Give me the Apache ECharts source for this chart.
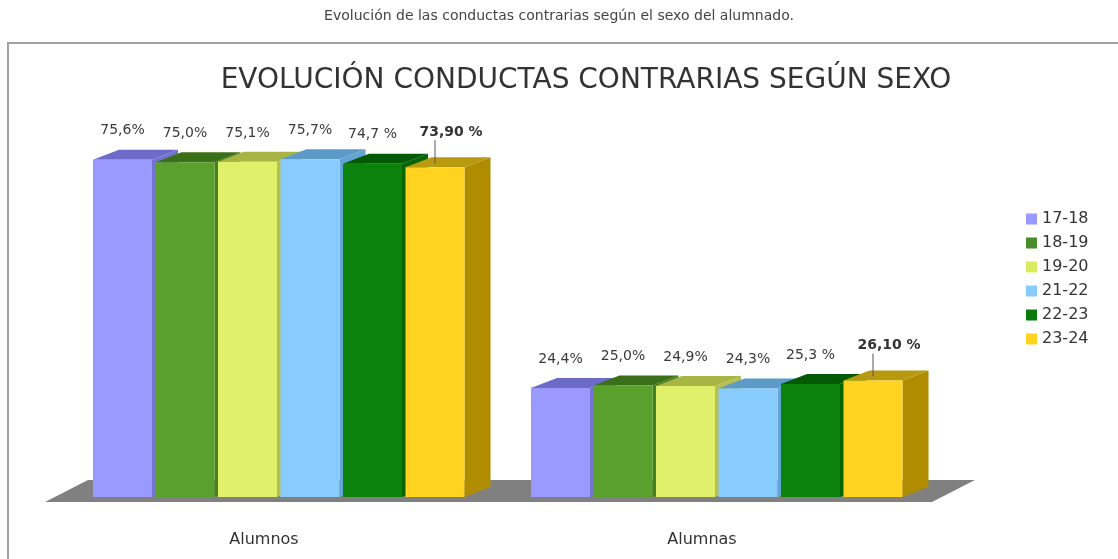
<!DOCTYPE html>
<html><head><meta charset="utf-8">
<script src="https://cdn.jsdelivr.net/npm/echarts@6/dist/echarts.min.js"></script>
<style>html,body{margin:0;padding:0;background:#fff}#c{width:1118px;height:559px}</style>
</head><body><div id="c"></div>
<script>
// ---- data ----
const categories = ['Alumnos', 'Alumnas'];
const years = ['17-18', '18-19', '19-20', '21-22', '22-23', '23-24'];
const v1718 = [75.6, 24.4];
const v1819 = [75.0, 25.0];
const v1920 = [75.1, 24.9];
const v2122 = [75.7, 24.3];
const v2223 = [74.7, 25.3];
const v2324 = [73.90, 26.10];
const seriesValues = [v1718, v1819, v1920, v2122, v2223, v2324];
const labelDecimals = [1, 1, 1, 1, 1, 2];
const labelSep = ['', '', '', '', ' ', ' '];
const title = 'EVOLUCIÓN CONDUCTAS CONTRARIAS SEGÚN SEXO';
const caption = 'Evolución de las conductas contrarias según el sexo del alumnado.';

// ---- styles ----
const frontCol = ['#9999ff', '#5aa02c', '#e0f06a', '#88ccff', '#0b820b', '#ffd320'];
const topCol   = ['#6c6cc8', '#3c7018', '#a8b444', '#5c9ac8', '#045a04', '#b89a10'];
const sideCol  = ['#7474d0', '#44801c', '#b4c050', '#64a4d4', '#066606', '#b08c00'];
const legendCol = ['#9999ff', '#4a8a2a', '#d8ec60', '#88ccff', '#0b7a0b', '#ffd320'];

function fmt(v, s) {
  return v.toFixed(labelDecimals[s]).replace('.', ',') + labelSep[s] + '%';
}

function makeRender(s) {
  return function (params, api) {
    const ci = api.value(0), val = api.value(1);
    const base = api.coord([ci, 0]);
    const tp = api.coord([ci, val]);
    const band = api.size([1, 0])[0];
    const pitch = band * 0.1427, w = band * 0.1347;
    const x0 = base[0] - band * 0.4224 + s * pitch;
    const y0 = base[1], y1 = tp[1];
    const dx = 26, dy = 10;
    const last = s === years.length - 1;
    const cx = x0 + w / 2;
    const children = [
      { type: 'polygon', shape: { points: [[x0 + w, y1], [x0 + w + dx, y1 - dy], [x0 + w + dx, y0 - dy], [x0 + w, y0]] },
        style: { fill: sideCol[s] } },
      { type: 'polygon', shape: { points: [[x0, y1], [x0 + dx, y1 - dy], [x0 + w + dx, y1 - dy], [x0 + w, y1]] },
        style: { fill: topCol[s] } },
      { type: 'rect', shape: { x: x0, y: y1, width: w, height: y0 - y1 },
        style: { fill: frontCol[s] } }
    ];
    if (last) {
      children.push({ type: 'line', shape: { x1: cx, y1: y1 - 27, x2: cx, y2: y1 - 4 },
        style: { stroke: '#555', lineWidth: 1 } });
      children.push({ type: 'text', style: { x: cx + 16, y: y1 - 28, text: fmt(val, s),
        align: 'center', verticalAlign: 'bottom', fill: '#333',
        font: 'bold 14px "DejaVu Sans"' } });
    } else {
      children.push({ type: 'text', style: { x: cx, y: y1 - 22, text: fmt(val, s),
        align: 'center', verticalAlign: 'bottom', fill: '#3a3a3a',
        font: '14px "DejaVu Sans"' } });
    }
    return { type: 'group', children: children };
  };
}

const series = [{
  type: 'custom', name: 'floor', silent: true, z: 1,
  data: [[0, 0]],
  renderItem: function (params, api) {
    const cs = params.coordSys;
    const yb = cs.y + cs.height;
    return { type: 'polygon', shape: { points: [
      [cs.x - 14, yb + 5], [cs.x + cs.width - 3, yb + 5],
      [cs.x + cs.width + 40, yb - 17], [cs.x + 29, yb - 17]] },
      style: { fill: '#808080' } };
  }
}];
years.forEach(function (y, s) {
  series.push({
    type: 'custom', name: y, z: 2 + s,
    itemStyle: { color: legendCol[s] },
    encode: { x: 0, y: 1 },
    data: seriesValues[s].map(function (v, i) { return [i, v]; }),
    renderItem: makeRender(s)
  });
});

const chart = echarts.init(document.getElementById('c'), null, { renderer: 'canvas' });
chart.setOption({
  animation: false,
  backgroundColor: '#ffffff',
  graphic: [
    { type: 'rect', shape: { x: 8, y: 43, width: 1200, height: 600 },
      style: { fill: 'none', stroke: '#a0a0a0', lineWidth: 2 }, z: -10 },
    { type: 'text', left: 'center', top: 9, style: { text: caption, fill: '#444',
      font: '14px "DejaVu Sans"' } }
  ],
  title: { text: title, left: 581, top: 62, textAlign: 'center',
    textStyle: { fontFamily: 'DejaVu Sans', fontSize: 28, fontWeight: 'normal', color: '#333' } },
  legend: {
    data: years, orient: 'vertical', left: 1021, top: 206,
    icon: 'rect', itemWidth: 11, itemHeight: 11, itemGap: 8, itemStyle: { borderWidth: 0 },
    textStyle: { fontFamily: 'DejaVu Sans', fontSize: 16, color: '#333', lineHeight: 16 }
  },
  grid: { left: 59, right: 183, top: 140, bottom: 62 },
  xAxis: { type: 'category', data: categories,
    axisLine: { show: false }, axisTick: { show: false }, splitLine: { show: false },
    axisLabel: { margin: 35, fontFamily: 'DejaVu Sans', fontSize: 16, color: '#333', padding: [0, 28, 0, 0] } },
  yAxis: { type: 'value', min: 0, max: 80, interval: 10, show: false },
  series: series
});
</script></body></html>
